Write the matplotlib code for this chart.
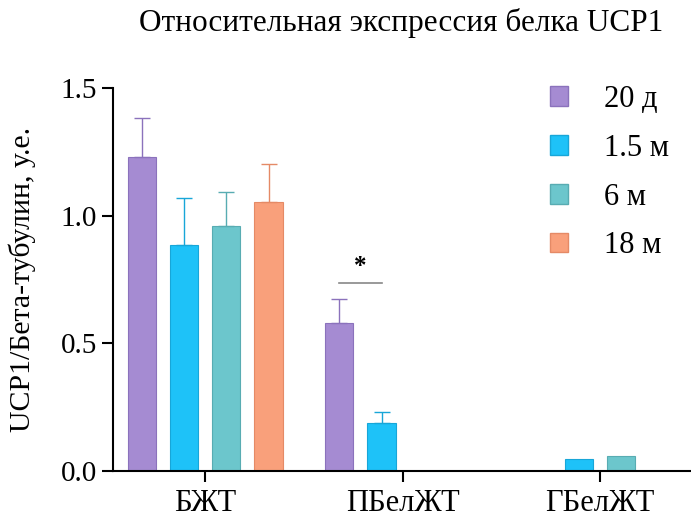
import matplotlib
matplotlib.use("Agg")
import matplotlib.pyplot as plt
import numpy as np

plt.rcParams['font.family'] = ['Liberation Serif', 'DejaVu Serif']

groups = ['БЖТ', 'ПБелЖТ', 'ГБелЖТ']
series = ['20 д', '1.5 м', '6 м', '18 м']
colors = ['#A58BD2', '#1EC2F8', '#6CC6CC', '#F9A07B']
edges = ['#8B72BC', '#18A6D8', '#58ACB2', '#E58A66']

# значения (None = нет столбца)
means = [
    [1.229, 0.579, None],
    [0.885, 0.188, 0.047],
    [0.959, None, 0.059],
    [1.053, None, None],
]
errs = [
    [0.153, 0.094, None],
    [0.184, 0.043, None],
    [0.133, None, None],
    [0.149, None, None],
]

fig = plt.figure(figsize=(6.91, 5.22), dpi=100)
ax = fig.add_axes([0.1635, 0.0977, 0.836, 0.7337])

x = np.arange(len(groups))
width = 0.143
step = 0.2137
for i, name in enumerate(series):
    off = (i - 1.5) * step
    for j in range(len(groups)):
        m = means[i][j]
        if m is None:
            continue
        ax.bar(x[j] + off, m, width, color=colors[i], edgecolor=edges[i], linewidth=0.8)
        e = errs[i][j]
        if e is not None:
            ax.errorbar(x[j] + off, m, yerr=[[0], [e]], fmt='none', ecolor=edges[i],
                        elinewidth=1.0, capsize=6, capthick=1.0)
    ax.bar([np.nan], [np.nan], width, color=colors[i], edgecolor=edges[i], label=name)

# значимость
ax.plot([x[1] - 1.5 * step, x[1] - 0.5 * step], [0.736, 0.736], color='#888888', lw=1.2)
ax.text(x[1] - step, 0.80, '*', ha='center', va='center', fontsize=18, fontweight='bold')

ax.set_xlim(-0.468, 2.46)
ax.set_ylim(0, 1.5)
ax.set_yticks([0, 0.5, 1.0, 1.5])
ax.set_yticklabels(['0.0', '0.5', '1.0', '1.5'])
ax.set_xticks(x)
ax.set_xticklabels(groups)
ax.tick_params(axis='both', labelsize=21, width=1.5, length=8, direction='out')
ax.tick_params(axis='x', labelsize=22, pad=5)
for s in ['top', 'right']:
    ax.spines[s].set_visible(False)
for s in ['left', 'bottom']:
    ax.spines[s].set_linewidth(1.5)

ax.set_ylabel('UCP1/Бета-тубулин, у.е.', fontsize=21.5, labelpad=18)
fig.text(0.58, 0.955, 'Относительная экспрессия белка UCP1', ha='center', va='center', fontsize=22.5)

ax.legend(loc='upper right', bbox_to_anchor=(1.01, 1.08), frameon=False, fontsize=22,
          handlelength=0.6, handleheight=0.6, handletextpad=1.17, labelspacing=0.65)

fig.savefig('out.png', dpi=100)
